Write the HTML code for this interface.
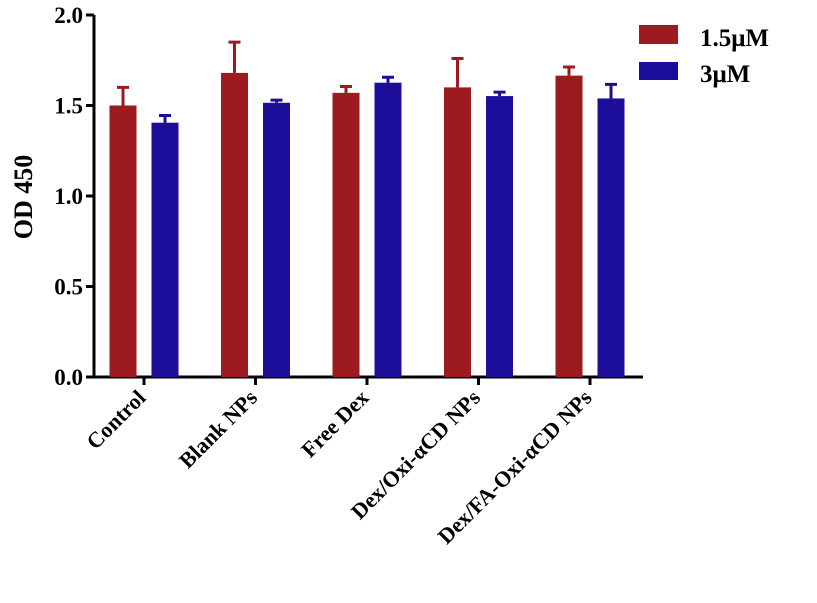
<!DOCTYPE html>
<html><head><meta charset="utf-8"><style>
html,body{margin:0;padding:0;background:#fff;}
svg text{font-family:"Liberation Serif",serif;font-weight:bold;fill:#000;}
</style></head><body>
<svg id="chart" width="817" height="598" xmlns="http://www.w3.org/2000/svg">
<g id="axes"></g>
<g id="bars"></g>
<g id="legend">
<rect x="639" y="25" width="39" height="19" fill="#9b1b1e"/>
<text x="700" y="46" font-size="25">1.5μM</text>
<rect x="639" y="62" width="39" height="18" fill="#1c0d9a"/>
<text x="700" y="82" font-size="25">3μM</text>
</g>
<text transform="translate(32,197) rotate(-90)" text-anchor="middle" font-size="26">OD 450</text>
</svg>
<script>
const categories = ["Control","Blank NPs","Free Dex","Dex/Oxi-αCD NPs","Dex/FA-Oxi-αCD NPs"];
const series1 = [1.50,1.68,1.57,1.60,1.665];
const series1Err = [0.10,0.17,0.035,0.16,0.048];
const series2 = [1.405,1.515,1.626,1.552,1.539];
const series2Err = [0.04,0.015,0.03,0.022,0.078];
const yTicks = [0,0.5,1.0,1.5,2.0];
const yTickLabels = ["0.0","0.5","1.0","1.5","2.0"];

const NS="http://www.w3.org/2000/svg";
const x0=94, yZero=377, yTop=15, xEnd=643, step=111.5, first=144;
function y(v){return yZero-(v/2.0)*(yZero-yTop);}
function xc(i){return first+i*step;}
function mk(tag,attrs,parent){const e=document.createElementNS(NS,tag);for(const k in attrs)e.setAttribute(k,attrs[k]);parent.appendChild(e);return e;}
const axes=document.getElementById('axes'), bars=document.getElementById('bars');

const yl=mk('line',{x1:x0,y1:yTop,x2:x0,y2:yZero+1.5,stroke:'#000','stroke-width':3},axes);


const xl=mk('line',{x1:x0-1.5,y1:yZero,x2:xEnd,y2:yZero,stroke:'#000','stroke-width':3},axes);



yTicks.forEach((v,i)=>{
  const t=mk('line',{x1:x0-8,y1:y(v),x2:x0,y2:y(v),stroke:'#000','stroke-width':3},axes);
  
  
  const l=mk('text',{x:x0-11,y:y(v)+8,'text-anchor':'end','font-size':23},axes);
  
  
  l.textContent=yTickLabels[i];
});

const bw=27, off=21;
function drawBar(cx,v,e,color,name){
  const r=mk('rect',{x:cx-bw/2,y:y(v),width:bw,height:yZero-y(v),fill:color},bars);
  
  
  const el=mk('path',{d:`M${cx},${y(v)} V${y(v+e)} M${cx-6},${y(v+e)} H${cx+6}`,stroke:color,'stroke-width':3,fill:'none'},bars);
  
  
}
categories.forEach((c,i)=>{
  const cx=xc(i);
  drawBar(cx-off,series1[i],series1Err[i],'#9b1b1e','bar-1-5um');
  drawBar(cx+off,series2[i],series2Err[i],'#1c0d9a','bar-3um');
  const t=mk('line',{x1:cx,y1:yZero,x2:cx,y2:yZero+8,stroke:'#000','stroke-width':3},axes);
  
  
  const l=mk('text',{transform:`translate(${cx+3},${yZero+22}) rotate(-45)`,'text-anchor':'end','font-size':22},axes);
  
  
  l.textContent=c;
});
</script>
</body></html>
